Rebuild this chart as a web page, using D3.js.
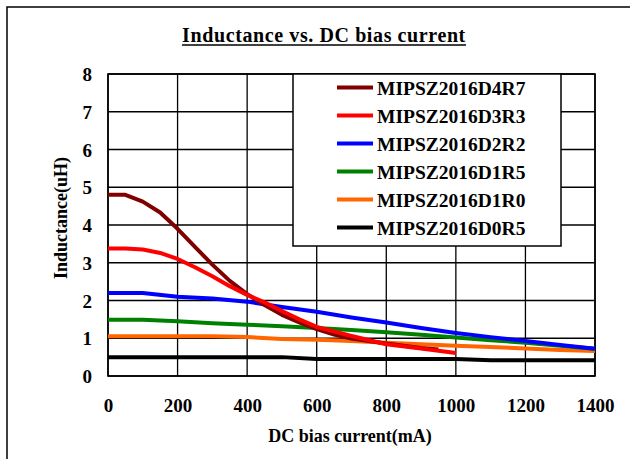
<!DOCTYPE html>
<html lang="en">
<head>
<meta charset="utf-8">
<script src="https://d3js.org/d3.v7.min.js"></script>
<style>
  body { margin: 0; background: #fff; }
  text { font-family: "Liberation Serif", "Times New Roman", serif; font-weight: bold; fill: #000; }
</style>
</head>
<body>
<script type="text/javascript">
  var w = 630;
  var h = 459;

  // mA values and inductance (uH)
  var seriesNames = ["MIPSZ2016D4R7", "MIPSZ2016D3R3", "MIPSZ2016D2R2", "MIPSZ2016D1R5", "MIPSZ2016D1R0", "MIPSZ2016D0R5"];
  var seriesColors = ["#800000", "#ff0000", "#0000ff", "#008000", "#ff6600", "#000000"];

  var d4r7 = [[0,4.8],[50,4.8],[100,4.62],[150,4.33],[200,3.9],[250,3.42],[300,2.95],[350,2.52],[400,2.17],[450,1.88],[500,1.62],[550,1.42],[600,1.24],[650,1.1],[700,0.99],[800,0.86],[900,0.74],[950,0.7]];
  var d3r3 = [[0,3.38],[50,3.38],[100,3.35],[150,3.26],[200,3.1],[250,2.88],[300,2.64],[350,2.38],[400,2.15],[450,1.95],[500,1.72],[550,1.5],[600,1.3],[700,1.06],[800,0.84],[900,0.73],[1000,0.61]];
  var d2r2 = [[0,2.2],[100,2.2],[200,2.1],[300,2.05],[400,1.97],[500,1.83],[600,1.7],[700,1.55],[800,1.42],[900,1.27],[1000,1.14],[1100,1.03],[1200,0.93],[1300,0.82],[1400,0.72]];
  var d1r5 = [[0,1.49],[100,1.49],[200,1.45],[300,1.4],[400,1.36],[500,1.32],[600,1.27],[700,1.22],[800,1.16],[900,1.09],[1000,1.02],[1100,0.95],[1200,0.88],[1300,0.8],[1400,0.72]];
  var d1r0 = [[0,1.05],[100,1.05],[200,1.05],[300,1.05],[400,1.03],[500,0.98],[600,0.96],[700,0.93],[800,0.88],[900,0.84],[1000,0.8],[1100,0.77],[1200,0.73],[1300,0.69],[1400,0.66]];
  var d0r5 = [[0,0.5],[100,0.5],[200,0.5],[300,0.5],[400,0.5],[500,0.5],[600,0.45],[700,0.45],[800,0.45],[900,0.45],[1000,0.45],[1100,0.42],[1200,0.42],[1300,0.42],[1400,0.42]];
  var seriesData = [d4r7, d3r3, d2r2, d1r5, d1r0, d0r5];

  var xTicks = [0, 200, 400, 600, 800, 1000, 1200, 1400];
  var yTicks = [0, 1, 2, 3, 4, 5, 6, 7, 8];

  var pLeft = 108, pRight = 595, pTop = 74, pBottom = 376;

  var x = d3.scaleLinear().domain([0, 1400]).range([pLeft, pRight]);
  var y = d3.scaleLinear().domain([0, 8]).range([pBottom, pTop]);

  var svg = d3.select("body")
          .append("svg")
          .attr("width", w)
          .attr("height", h);

  // outer frame, runs off the right and bottom
  svg.append("rect")
    .attr("x", 7).attr("y", 7)
    .attr("width", 660).attr("height", 480)
    .attr("fill", "none")
    .attr("stroke", "#000")
    .attr("stroke-width", 1.5);

  // title
  svg.append("text")
    .attr("x", 324).attr("y", 42)
    .attr("text-anchor", "middle")
    .attr("font-size", 20)
    .attr("letter-spacing", 0.6)
    .text("Inductance vs. DC bias current");
  svg.append("line")
    .attr("x1", 182).attr("x2", 466)
    .attr("y1", 45).attr("y2", 45)
    .attr("stroke", "#000").attr("stroke-width", 1.5);

  // grid
  var grid = svg.append("g");
  grid.selectAll("line.gx")
    .data(xTicks)
    .join("line")
    .attr("class", "gx")
    .attr("x1", d => x(d)).attr("x2", d => x(d))
    .attr("y1", pTop).attr("y2", pBottom)
    .attr("stroke", "#000").attr("stroke-width", 1.3);
  grid.selectAll("line.gy")
    .data(yTicks)
    .join("line")
    .attr("class", "gy")
    .attr("x1", pLeft).attr("x2", pRight)
    .attr("y1", d => y(d)).attr("y2", d => y(d))
    .attr("stroke", "#000").attr("stroke-width", 1.3);
  svg.append("rect")
    .attr("x", pLeft).attr("y", pTop)
    .attr("width", pRight - pLeft).attr("height", pBottom - pTop)
    .attr("fill", "none")
    .attr("stroke", "#000").attr("stroke-width", 1.6);

  // axes labels
  var xAxis = svg.append("g")
    .attr("transform", `translate(0,${pBottom})`)
    .call(d3.axisBottom(x).tickValues(xTicks).tickFormat(d3.format("d")).tickSize(0).tickPadding(0));
  xAxis.select(".domain").remove();
  xAxis.selectAll("text")
    .attr("dy", null)
    .attr("y", 36)
    .attr("font-size", 19)
    .attr("font-family", null);

  var yAxis = svg.append("g")
    .attr("transform", `translate(${pLeft},0)`)
    .call(d3.axisLeft(y).tickValues(yTicks).tickFormat(d3.format("d")).tickSize(0).tickPadding(0));
  yAxis.select(".domain").remove();
  yAxis.selectAll("text")
    .attr("x", -16)
    .attr("dy", "0.35em")
    .attr("font-size", 19)
    .attr("font-family", null);

  svg.append("text")
    .attr("x", 350).attr("y", 442)
    .attr("text-anchor", "middle")
    .attr("font-size", 18)
    .text("DC bias current(mA)");

  svg.append("text")
    .attr("transform", "translate(67,218) rotate(-90)")
    .attr("text-anchor", "middle")
    .attr("font-size", 18)
    .text("Inductance(uH)");

  // curves
  var line = d3.line()
    .x(d => x(d[0]))
    .y(d => y(d[1]));

  var order = [5, 4, 3, 2, 0, 1];
  order.forEach(function(i) {
    svg.append("path")
      .datum(seriesData[i])
      .attr("d", line)
      .attr("fill", "none")
      .attr("stroke", seriesColors[i])
      .attr("stroke-width", 4)
      .attr("stroke-linejoin", "round");
  });

  // legend
  var legend = svg.append("g");
  legend.append("rect")
    .attr("x", 293).attr("y", 74)
    .attr("width", 268).attr("height", 172)
    .attr("fill", "#fff")
    .attr("stroke", "#000").attr("stroke-width", 1.5);

  var rows = legend.selectAll("g.row")
    .data(seriesNames)
    .join("g")
    .attr("class", "row")
    .attr("transform", (d, i) => `translate(0, ${87.5 + i * 28})`);
  rows.append("line")
    .attr("x1", 337).attr("x2", 373)
    .attr("stroke", (d, i) => seriesColors[i])
    .attr("stroke-width", 4);
  rows.append("text")
    .attr("x", 377)
    .attr("y", 7)
    .attr("font-size", 19.5)
    .text(d => d);
</script>
</body>
</html>
